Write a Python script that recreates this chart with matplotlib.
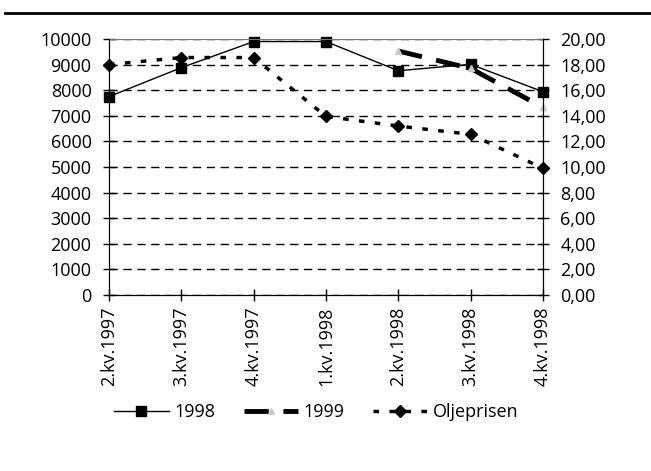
import matplotlib
matplotlib.use('Agg')
import matplotlib.pyplot as plt
from matplotlib.lines import Line2D

plt.rcParams['font.family'] = ['Open Sans', 'DejaVu Sans']
plt.rcParams['font.size'] = 13

kvartal = ['2.kv.1997', '3.kv.1997', '4.kv.1997', '1.kv.1998', '2.kv.1998', '3.kv.1998', '4.kv.1998']
serie_1998 = [7750, 8880, 9900, 9900, 8760, 9010, 7940]
serie_1999 = [None, None, None, None, 9530, 8850, 7330]
oljepris = [18.0, 18.55, 18.55, 13.95, 13.2, 12.55, 9.9]

fig = plt.figure(figsize=(6.51, 4.71), dpi=100)
ax = fig.add_axes([0.1674, 0.3737, 0.834 - 0.1674, 0.5435])
ax2 = ax.twinx()

x = list(range(len(kvartal)))
x99 = [i for i, v in zip(x, serie_1999) if v is not None]
y99 = [v for v in serie_1999 if v is not None]

ax.set_zorder(ax2.get_zorder() + 1)
ax.patch.set_visible(False)

l1, = ax.plot(x, serie_1998, color='black', lw=1.0, marker='s', ms=7.5, label='1998', clip_on=False)
l2, = ax.plot(x99, y99, color='black', lw=3.5, linestyle=(0, (5, 3)), marker='^', ms=5,
              mfc='#c8c8c8', mec='#c8c8c8', label='1999', clip_on=False)
l3, = ax2.plot(x, oljepris, color='black', lw=2.5, linestyle=(0, (1.6, 3.0)), marker='D', ms=6,
               label='Oljeprisen', clip_on=False)

ax.set_xlim(0, 6)
ax.set_ylim(0, 10000)
ax.set_yticks(range(0, 10001, 1000))
ax2.set_ylim(0, 20)
ax2.set_yticks(range(0, 21, 2))
ax2.set_yticklabels([f'{v},00' for v in range(0, 21, 2)])

ax.set_xticks(x)
ax.set_xticklabels(kvartal, rotation=90)

ax.yaxis.grid(True, color='black', lw=1.0, linestyle=(0, (6, 4)))
ax.set_axisbelow(True)

for a in (ax, ax2):
    a.spines['top'].set_visible(False)
    a.tick_params(direction='inout', length=9, width=1, pad=8)
ax.tick_params(axis='x', pad=4)

ax.axhline(10000, color='#777777', lw=0.8)

fig.legend(handles=[l1, l2, l3], loc='center', bbox_to_anchor=(0.486, 0.125), ncol=3,
           frameon=False, handlelength=3.0, columnspacing=1.6, handletextpad=0.3, fontsize=13)

fig.add_artist(Line2D([0.008, 1.0], [1 - 13 / 471, 1 - 13 / 471], color='black', lw=2))

fig.savefig('out.png', dpi=100)
